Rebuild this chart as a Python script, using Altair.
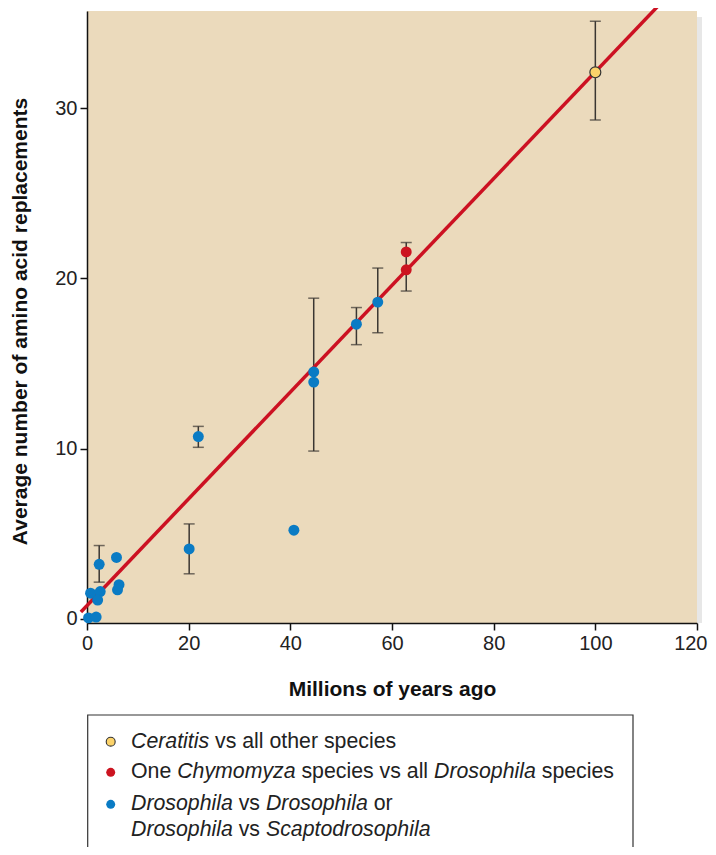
import altair as alt
import pandas as pd

# ---------------- data ----------------
blue_x = [0.3, 1.8, 0.7, 2.6, 2.1, 2.4, 5.8, 6.3, 6.0, 20.1, 21.9, 40.7, 44.6, 44.6, 53.0, 57.2]
blue_y = [0.05, 0.1, 1.5, 1.6, 1.1, 3.2, 3.6, 2.0, 1.7, 4.1, 10.7, 5.2, 14.5, 13.9, 17.3, 18.6]
red_x = [62.8, 62.8]
red_y = [21.55, 20.5]
yellow_x = [100.0]
yellow_y = [32.1]

err_x = [2.4, 20.1, 21.9, 44.6, 53.0, 57.2, 62.8, 100.0]
err_lo = [2.15, 2.64, 10.07, 9.85, 16.1, 16.8, 19.25, 29.3]
err_hi = [4.3, 5.57, 11.3, 18.83, 18.28, 20.6, 22.1, 35.1]

line_x = [-1.2, 112.2]
line_y = [0.4, 35.95]

x_ticks = [0, 20, 40, 60, 80, 100, 120]
y_ticks = [0, 10, 20, 30]

legend_items = [
    [("Ceratitis", True), (" vs all other species", False)],
    [("One ", False), ("Chymomyza", True), (" species vs all ", False),
     ("Drosophila", True), (" species", False)],
    [("Drosophila", True), (" vs ", False), ("Drosophila", True), (" or", False)],
    [("Drosophila", True), (" vs ", False), ("Scaptodrosophila", True)],
]
legend_colors = ["#fcd36a", "#cc1420", "#0a7bc4"]

# ---------------- styling ----------------
FONT = "Liberation Sans"
BG = "#ebdabc"
BLUE = "#0a7bc4"
RED = "#cc1420"
YELLOW = "#fcd36a"
RED_LINE = "#cc1122"
ERR = "#3a3632"

W_PLOT, H_PLOT = 610, 612
PT = 120

blue = pd.DataFrame({"x": blue_x, "y": blue_y})
red = pd.DataFrame({"x": red_x, "y": red_y})
yellow = pd.DataFrame({"x": yellow_x, "y": yellow_y})
err = pd.DataFrame({"x": err_x, "lo": err_lo, "hi": err_hi})
fit = pd.DataFrame({"x": line_x, "y": line_y})

xs = alt.Scale(domain=[0, 120], nice=False, zero=False)
ys = alt.Scale(domain=[-0.25, 35.7], nice=False, zero=False)

X = alt.X("x:Q", scale=xs, axis=alt.Axis(
    values=x_ticks, title="Millions of years ago", grid=False, labelFlush=False,
    labelAlign={"condition": {"test": "datum.value == 120", "value": "right"}, "value": "center"},
    labelOffset={"condition": {"test": "datum.value == 120", "value": 10}, "value": 0},
    titleY=66, titleBaseline="middle"))
Y = alt.Y("y:Q", scale=ys, axis=alt.Axis(
    values=y_ticks, title="Average number of amino acid replacements", grid=False,
    labelFlush=False,
    titleX=-67, titleY=310, titleBaseline="middle", titleAngle=-90))

# soft shadow along the right edge of the plot panel
shadow = alt.Chart(pd.DataFrame({"x1": [W_PLOT], "x2": [W_PLOT + 5], "y1": [6], "y2": [H_PLOT]})).mark_rect(
    fill="#d4d4d4", opacity=0.55, clip=False).encode(
    x=alt.X("x1:Q", scale=None), x2="x2:Q", y=alt.Y("y1:Q", scale=None), y2="y2:Q")

base_rules = alt.Chart(err).mark_rule(color=ERR, strokeWidth=1.5).encode(
    x=alt.X("x:Q", scale=xs), y=alt.Y("lo:Q", scale=ys), y2="hi:Q")
cap_lo = alt.Chart(err).mark_tick(orient="horizontal", color=ERR, size=11, thickness=1.5).encode(
    x=alt.X("x:Q", scale=xs), y=alt.Y("lo:Q", scale=ys))
cap_hi = alt.Chart(err).mark_tick(orient="horizontal", color=ERR, size=11, thickness=1.5).encode(
    x=alt.X("x:Q", scale=xs), y=alt.Y("hi:Q", scale=ys))

fit_line = alt.Chart(fit).mark_line(color=RED_LINE, strokeWidth=3.5, clip=False).encode(x=X, y=Y)

blue_pts = alt.Chart(blue).mark_point(filled=True, shape="circle", size=PT, color=BLUE, opacity=1).encode(
    x=alt.X("x:Q", scale=xs), y=alt.Y("y:Q", scale=ys))
red_pts = alt.Chart(red).mark_point(filled=True, shape="circle", size=PT, color=RED, opacity=1).encode(
    x=alt.X("x:Q", scale=xs), y=alt.Y("y:Q", scale=ys))
yellow_pts = alt.Chart(yellow).mark_point(filled=True, shape="circle", size=PT, fill=YELLOW,
                                          stroke="#333333", strokeWidth=1.2, opacity=1).encode(
    x=alt.X("x:Q", scale=xs), y=alt.Y("y:Q", scale=ys))

# ---------------- legend (built by hand, mixed italics) ----------------
AW = {" ": 278, "a": 556, "b": 556, "c": 500, "d": 556, "e": 556, "f": 278, "g": 556,
      "h": 556, "i": 222, "j": 222, "k": 500, "l": 222, "m": 833, "n": 556, "o": 556,
      "p": 556, "q": 556, "r": 333, "s": 500, "t": 278, "u": 556, "v": 500, "w": 722,
      "x": 500, "y": 500, "z": 500, "C": 722, "D": 722, "O": 778, "S": 667}
LFS = 21.3


def tw(s):
    return sum(AW.get(c, 556) for c in s) / 1000 * LFS


leg_x0 = 44.0
leg_line_y = [730.5, 761.0, 793.0, 819.0]
rows = []
for segs, ly in zip(legend_items, leg_line_y):
    cx = leg_x0
    for txt, it in segs:
        lead = len(txt) - len(txt.lstrip())
        rows.append({"t": txt.strip(), "px": cx + tw(" " * lead), "py": ly, "it": it})
        cx += tw(txt)
leg_txt = pd.DataFrame(rows)
leg_it = leg_txt[leg_txt.it]
leg_rm = leg_txt[~leg_txt.it]

leg_box = alt.Chart(pd.DataFrame({"x1": [0.7], "x2": [546.0], "y1": [704.0], "y2": [900.0]})).mark_rect(
    fill="white", stroke="#333333", strokeWidth=1.2, clip=False).encode(
    x=alt.X("x1:Q", scale=None), x2="x2:Q", y=alt.Y("y1:Q", scale=None), y2="y2:Q")

leg_pts = alt.Chart(pd.DataFrame({"px": [23.7, 23.7, 23.7], "py": [730.7, 761.3, 793.3],
                                  "c": legend_colors})).mark_point(
    filled=True, shape="circle", size=80, opacity=1, stroke="#333333", clip=False).encode(
    x=alt.X("px:Q", scale=None), y=alt.Y("py:Q", scale=None),
    fill=alt.Fill("c:N", scale=None),
    strokeWidth=alt.condition(alt.datum.c == YELLOW, alt.value(1.1), alt.value(0)))

leg_text_it = alt.Chart(leg_it).mark_text(
    align="left", baseline="middle", font=FONT, fontSize=LFS, fontStyle="italic",
    color="#222222", clip=False).encode(
    x=alt.X("px:Q", scale=None), y=alt.Y("py:Q", scale=None), text="t:N")
leg_text_rm = alt.Chart(leg_rm).mark_text(
    align="left", baseline="middle", font=FONT, fontSize=LFS,
    color="#222222", clip=False).encode(
    x=alt.X("px:Q", scale=None), y=alt.Y("py:Q", scale=None), text="t:N")

chart = alt.layer(
    shadow, base_rules, cap_lo, cap_hi, fit_line, blue_pts, red_pts, yellow_pts,
    leg_box, leg_pts, leg_text_it, leg_text_rm
).properties(
    width=W_PLOT, height=H_PLOT,
    autosize=alt.AutoSizeParams(type="none"),
    padding={"left": 79, "top": 3, "right": 11, "bottom": 224},
).configure_view(
    fill=BG, strokeWidth=0
).configure_axis(
    labelFont=FONT, labelFontSize=20, labelColor="#222222",
    titleFont=FONT, titleFontSize=21, titleFontWeight="bold", titleColor="#111111",
    domainColor="#111111", domainWidth=1.5, tickColor="#111111", tickWidth=1.5, tickSize=7,
    labelPadding=3,
)

chart.save("out.html", embed_options={"renderer": "svg", "actions": False})
